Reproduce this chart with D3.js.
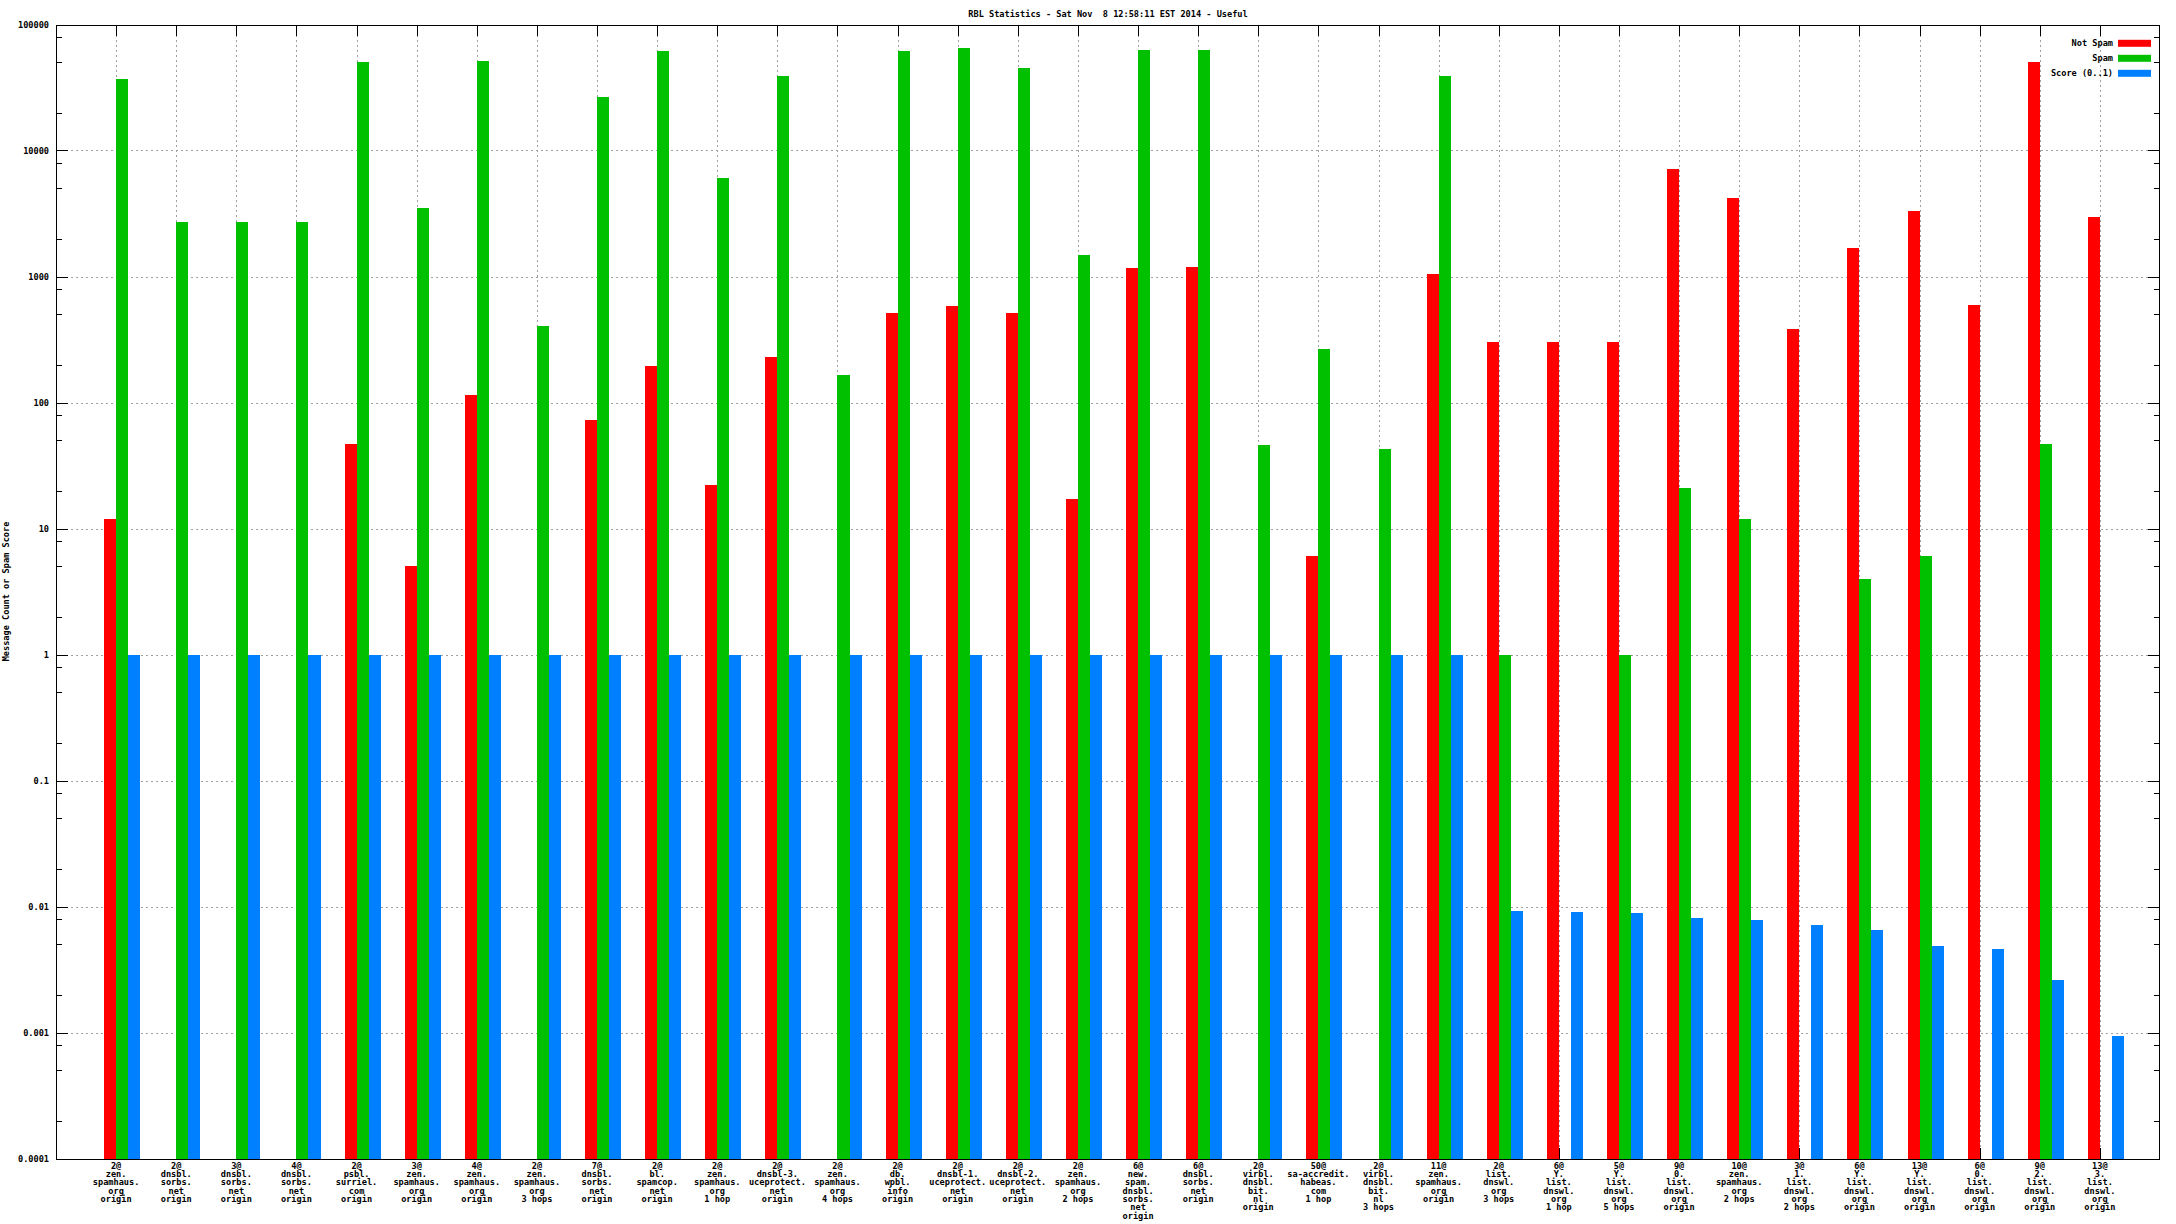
<!DOCTYPE html>
<html>
<head>
<meta charset="utf-8">
<script src="https://cdn.jsdelivr.net/npm/d3@7"></script>
<style>
  html, body { margin: 0; padding: 0; background: #fff; }
  svg { display: block; }
  text { font-family: "DejaVu Sans Mono", "Liberation Mono", monospace; font-size: 8.6px; font-weight: bold; fill: #000; }
</style>
</head>
<body>
<svg id="chart" width="2176" height="1224"></svg>
<script>
const title = "RBL Statistics - Sat Nov  8 12:58:11 EST 2014 - Useful";
const yLabel = "Message Count or Spam Score";
const seriesNames = ["Not Spam", "Spam", "Score (0..1)"];
const seriesColors = ["#ff0000", "#00c000", "#0080ff"];

const categories = [
  ["2@", "zen.", "spamhaus.", "org", "origin"],
  ["2@", "dnsbl.", "sorbs.", "net", "origin"],
  ["3@", "dnsbl.", "sorbs.", "net", "origin"],
  ["4@", "dnsbl.", "sorbs.", "net", "origin"],
  ["2@", "psbl.", "surriel.", "com", "origin"],
  ["3@", "zen.", "spamhaus.", "org", "origin"],
  ["4@", "zen.", "spamhaus.", "org", "origin"],
  ["2@", "zen.", "spamhaus.", "org", "3 hops"],
  ["7@", "dnsbl.", "sorbs.", "net", "origin"],
  ["2@", "bl.", "spamcop.", "net", "origin"],
  ["2@", "zen.", "spamhaus.", "org", "1 hop"],
  ["2@", "dnsbl-3.", "uceprotect.", "net", "origin"],
  ["2@", "zen.", "spamhaus.", "org", "4 hops"],
  ["2@", "db.", "wpbl.", "info", "origin"],
  ["2@", "dnsbl-1.", "uceprotect.", "net", "origin"],
  ["2@", "dnsbl-2.", "uceprotect.", "net", "origin"],
  ["2@", "zen.", "spamhaus.", "org", "2 hops"],
  ["6@", "new.", "spam.", "dnsbl.", "sorbs.", "net", "origin"],
  ["6@", "dnsbl.", "sorbs.", "net", "origin"],
  ["2@", "virbl.", "dnsbl.", "bit.", "nl", "origin"],
  ["50@", "sa-accredit.", "habeas.", "com", "1 hop"],
  ["2@", "virbl.", "dnsbl.", "bit.", "nl", "3 hops"],
  ["11@", "zen.", "spamhaus.", "org", "origin"],
  ["2@", "list.", "dnswl.", "org", "3 hops"],
  ["6@", "Y.", "list.", "dnswl.", "org", "1 hop"],
  ["5@", "Y.", "list.", "dnswl.", "org", "5 hops"],
  ["9@", "0.", "list.", "dnswl.", "org", "origin"],
  ["10@", "zen.", "spamhaus.", "org", "2 hops"],
  ["3@", "1.", "list.", "dnswl.", "org", "2 hops"],
  ["6@", "Y.", "list.", "dnswl.", "org", "origin"],
  ["13@", "Y.", "list.", "dnswl.", "org", "origin"],
  ["6@", "0.", "list.", "dnswl.", "org", "origin"],
  ["9@", "2.", "list.", "dnswl.", "org", "origin"],
  ["13@", "3.", "list.", "dnswl.", "org", "origin"]
];

const notSpam = [12, null, null, null, 47, 5, 114, null, 72, 195, 22, 230, null, 510, 580, 510, 17, 1170, 1200, null, 6, null, 1040, 300, 300, 300, 7150, 4200, 385, 1690, 3340, 595, 50000, 2940];
const spam = [37000, 2700, 2700, 2700, 50000, 3500, 51500, 405, 26700, 62000, 6100, 39000, 166, 62000, 65000, 45000, 1480, 63000, 63000, 46, 265, 42.6, 39000, 1, null, 1, 21, 12, null, 4, 6, null, 47, null];
const score = [1, 1, 1, 1, 1, 1, 1, 1, 1, 1, 1, 1, 1, 1, 1, 1, 1, 1, 1, 1, 1, 1, 1, 0.0092, 0.0090, 0.00885, 0.0081, 0.0078, 0.0071, 0.0065, 0.0049, 0.0046, 0.0026, 0.00094];

const yTickValues = [0.0001, 0.001, 0.01, 0.1, 1, 10, 100, 1000, 10000, 100000];
const yTickLabels = ["0.0001", "0.001", "0.01", "0.1", "1", "10", "100", "1000", "10000", "100000"];
const minorMultipliers = [2, 5, 8];

const series = [notSpam, spam, score];

const L = 56, R = 2160, T = 24.5, B = 1158.5;
const svg = d3.select("#chart");
svg.append("rect").attr("width", 2176).attr("height", 1224).attr("fill", "#fff");

const x = d3.scaleLinear().domain([-1, categories.length]).range([L, R]);
const y = d3.scaleLog().domain([1e-4, 1e5]).range([B, T]);
const barW = 0.2;
const offsets = [-0.2, 0, 0.2];

const grid = svg.append("g").attr("stroke", "#a0a0a0").attr("stroke-width", 1).attr("stroke-dasharray", "2,3").attr("shape-rendering", "crispEdges");
grid.selectAll("line.h").data(yTickValues.slice(1, -1)).enter().append("line")
  .attr("x1", L).attr("x2", R)
  .attr("y1", d => Math.round(y(d)) + 0.5).attr("y2", d => Math.round(y(d)) + 0.5);
grid.selectAll("line.v").data(categories.map((c, i) => i)).enter().append("line")
  .attr("x1", d => Math.round(x(d)) + 0.5).attr("x2", d => Math.round(x(d)) + 0.5)
  .attr("y1", T).attr("y2", B);

const ticks = svg.append("g").attr("stroke", "#000").attr("stroke-width", 1).attr("shape-rendering", "crispEdges");
const minorVals = [];
for (let e = -4; e < 5; e++) for (const m of minorMultipliers) minorVals.push(m * Math.pow(10, e));
yTickValues.forEach(v => {
  const yy = Math.round(y(v)) + 0.5;
  ticks.append("line").attr("x1", L).attr("x2", L + 12).attr("y1", yy).attr("y2", yy);
  ticks.append("line").attr("x1", R - 12).attr("x2", R).attr("y1", yy).attr("y2", yy);
});
minorVals.forEach(v => {
  const yy = Math.round(y(v)) + 0.5;
  ticks.append("line").attr("x1", L).attr("x2", L + 6).attr("y1", yy).attr("y2", yy);
  ticks.append("line").attr("x1", R - 6).attr("x2", R).attr("y1", yy).attr("y2", yy);
});
categories.forEach((c, i) => {
  const xx = Math.round(x(i)) + 0.5;
  ticks.append("line").attr("x1", xx).attr("x2", xx).attr("y1", T).attr("y2", T + 11);
  ticks.append("line").attr("x1", xx).attr("x2", xx).attr("y1", B).attr("y2", B - 11);
});

const bars = svg.append("g").attr("shape-rendering", "crispEdges");
series.forEach((vals, s) => {
  bars.selectAll(null).data(vals.map((v, i) => ({ v, i })).filter(d => d.v != null)).enter().append("rect")
    .attr("x", d => x(d.i + offsets[s]))
    .attr("width", d => x(d.i + offsets[s] + barW) - x(d.i + offsets[s]))
    .attr("y", d => y(d.v))
    .attr("height", d => B - y(d.v))
    .attr("fill", seriesColors[s]);
});

svg.append("rect").attr("x", L + 0.5).attr("y", Math.round(T) + 0.5)
  .attr("width", R - L - 1).attr("height", Math.round(B) - Math.round(T))
  .attr("fill", "none").attr("stroke", "#000").attr("stroke-width", 1).attr("shape-rendering", "crispEdges");

svg.append("g").selectAll("text").data(yTickValues).enter().append("text")
  .attr("x", 49).attr("y", d => y(d)).attr("dy", "0.35em").attr("text-anchor", "end")
  .text((d, i) => yTickLabels[i]);

const xl = svg.append("g");
categories.forEach((lines, i) => {
  const t = xl.append("text").attr("text-anchor", "middle");
  lines.forEach((ln, k) => {
    t.append("tspan").attr("x", x(i)).attr("y", 1168.8 + k * 8.33).text(ln);
  });
});

svg.append("text").attr("x", (L + R) / 2).attr("y", 16.5).attr("text-anchor", "middle")
  .style("white-space", "pre").attr("xml:space", "preserve").text(title);

svg.append("text").attr("transform", `translate(8.5,${(T + B) / 2}) rotate(-90)`)
  .attr("text-anchor", "middle").text(yLabel);

const legY = [43.3, 58.3, 73.3];
seriesNames.forEach((n, s) => {
  svg.append("text").attr("x", 2113).attr("y", legY[s]).attr("dy", "0.35em").attr("text-anchor", "end")
    .style("white-space", "pre").text(n);
  svg.append("rect").attr("x", 2118).attr("y", legY[s] - 3.5).attr("width", 33).attr("height", 7)
    .attr("fill", seriesColors[s]);
});
</script>
</body>
</html>
